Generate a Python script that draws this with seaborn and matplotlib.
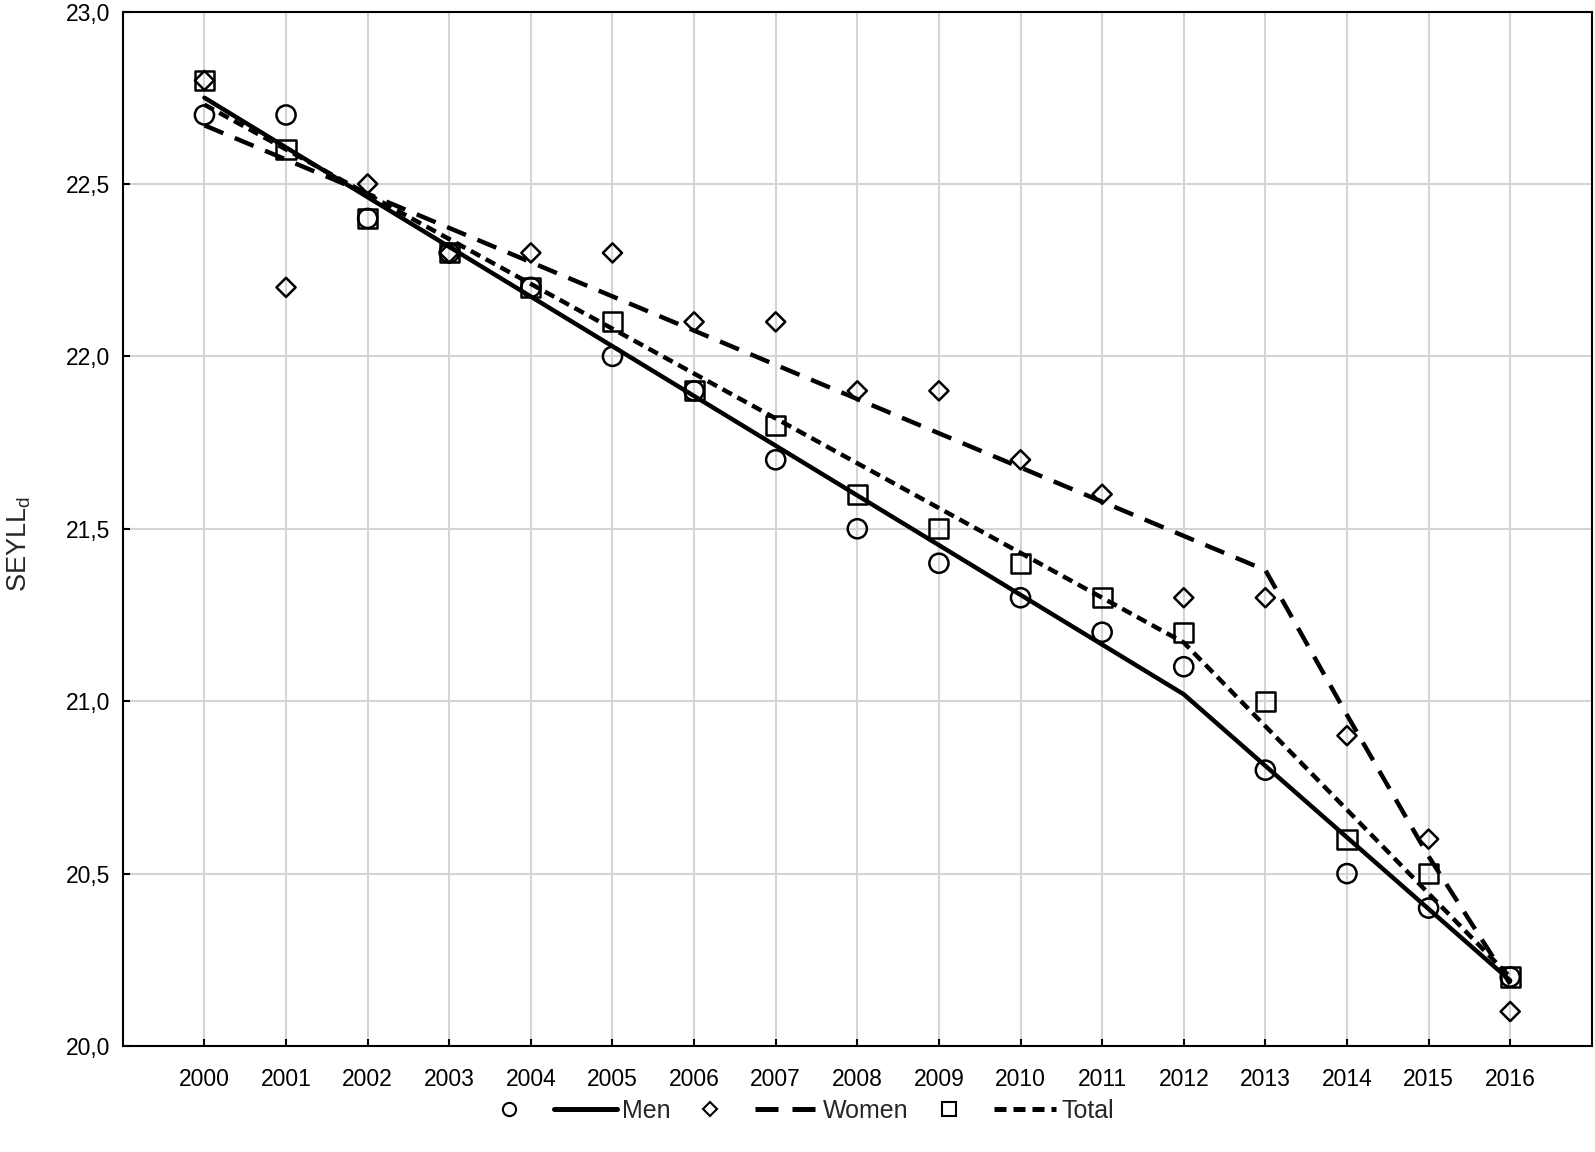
import matplotlib
matplotlib.use('Agg')
import matplotlib.pyplot as plt
from matplotlib.lines import Line2D
from matplotlib.ticker import FuncFormatter
import seaborn as sns
import pandas as pd
import numpy as np

years = list(range(2000, 2017))

# observed SEYLLd values
men = [22.7, 22.7, 22.4, 22.3, 22.2, 22.0, 21.9, 21.7, 21.5, 21.4, 21.3, 21.2, 21.1, 20.8, 20.5, 20.4, 20.2]
women = [22.8, 22.2, 22.5, 22.3, 22.3, 22.3, 22.1, 22.1, 21.9, 21.9, 21.7, 21.6, 21.3, 21.3, 20.9, 20.6, 20.1]
total = [22.8, 22.6, 22.4, 22.3, 22.2, 22.1, 21.9, 21.8, 21.6, 21.5, 21.4, 21.3, 21.2, 21.0, 20.6, 20.5, 20.2]

# fitted trend (joinpoint) lines
men_fit_years = [2000, 2012, 2016]
men_fit = [22.75, 21.02, 20.19]
women_fit_years = [2000, 2013, 2014, 2015, 2016]
women_fit = [22.67, 21.38, 20.96, 20.55, 20.18]
total_fit_years = [2000, 2012, 2016]
total_fit = [22.73, 21.17, 20.20]

obs = pd.DataFrame({'year': years * 3,
                    'value': men + women + total,
                    'group': ['Men'] * 17 + ['Women'] * 17 + ['Total'] * 17})
fits = {
    'Men': pd.DataFrame({'year': men_fit_years, 'value': men_fit}),
    'Women': pd.DataFrame({'year': women_fit_years, 'value': women_fit}),
    'Total': pd.DataFrame({'year': total_fit_years, 'value': total_fit}),
}

sns.set_style('ticks')
plt.rcParams['font.family'] = ['Liberation Sans', 'DejaVu Sans']
plt.rcParams['mathtext.fontset'] = 'custom'
plt.rcParams['mathtext.rm'] = 'Liberation Sans'

fig = plt.figure(figsize=(15.95, 11.52), dpi=100)
ax = fig.add_axes([0.077, 0.092, 0.921, 0.898])

markers = {'Men': 'o', 'Women': 'D', 'Total': 's'}
msize = {'Men': 190, 'Women': 95, 'Total': 190}
dashes = {'Men': (None, None), 'Women': (4.6, 2.8), 'Total': (2.4, 1.4)}

for g in ['Men', 'Women', 'Total']:
    sub = obs[obs['group'] == g]
    sns.scatterplot(data=sub, x='year', y='value', marker=markers[g], s=msize[g],
                    facecolors='none', edgecolor='black', linewidth=1.8, ax=ax,
                    legend=False, zorder=3)
    sns.lineplot(data=fits[g], x='year', y='value', color='black', linewidth=3.2,
                 ax=ax, legend=False, zorder=4)
    line = ax.lines[-1]
    if g != 'Men':
        line.set_dashes(dashes[g])

ax.set_xlim(1999, 2017)
ax.set_ylim(20.0, 23.0)
ax.set_xticks(years)
ax.set_yticks(np.arange(20.0, 23.01, 0.5))
ax.yaxis.set_major_formatter(FuncFormatter(lambda v, p: f'{v:.1f}'.replace('.', ',')))
ax.grid(True, color='#d4d4d4', linewidth=1.5)
ax.set_axisbelow(True)
ax.tick_params(axis='both', labelsize=16.5, colors='black', width=1.5,
               length=5, direction='in')
ax.tick_params(axis='x', pad=16)
ax.tick_params(axis='y', pad=9)
for sp in ax.spines.values():
    sp.set_visible(True)
    sp.set_linewidth(1.5)
    sp.set_color('black')
ax.set_xlabel('')
ax.set_ylabel(r'SEYLL$_\mathrm{d}$', fontsize=19.5)
ax.yaxis.set_label_coords(-0.061, 0.485)

handles = []
labels = []
for g in ['Men', 'Women', 'Total']:
    handles.append(Line2D([], [], linestyle='none', marker=markers[g], markersize=9.5 if g != 'Women' else 7,
                          markerfacecolor='none', markeredgecolor='black', markeredgewidth=1.5))
    labels.append('')
    ls = '-' if g == 'Men' else (0, dashes[g])
    handles.append(Line2D([], [], color='black', linewidth=3.6, linestyle=ls))
    labels.append(g)

fig.legend(handles, labels, loc='center', bbox_to_anchor=(0.499, 0.036), ncol=6,
           frameon=False, fontsize=18, handlelength=2.5, handletextpad=0.2,
           columnspacing=0.35)

plt.savefig('out.png', dpi=100)
plt.close()
